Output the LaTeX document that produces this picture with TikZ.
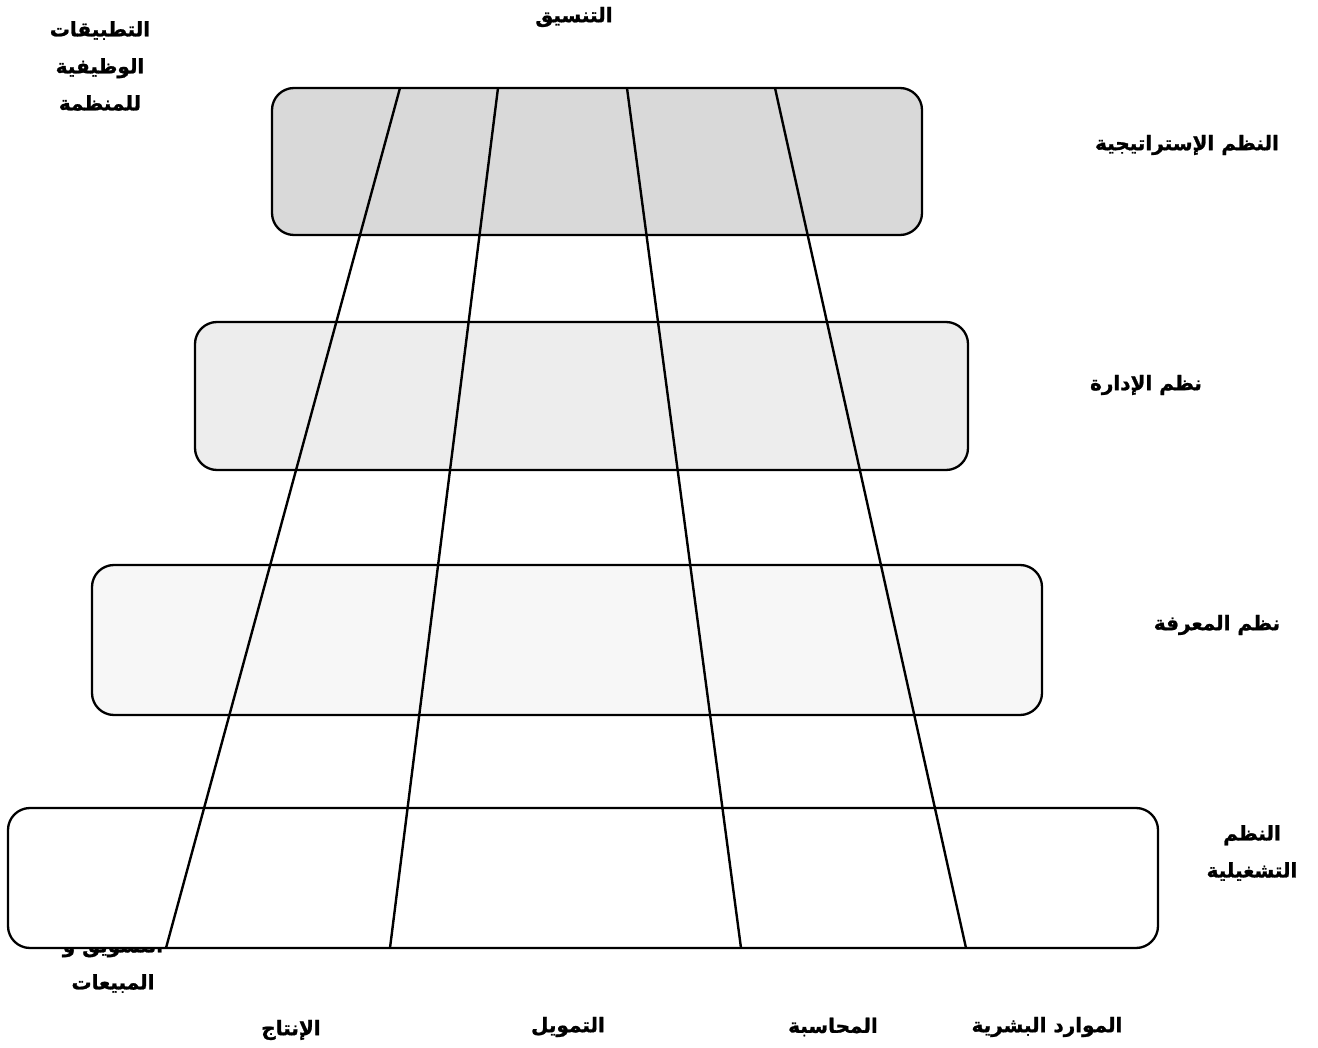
\documentclass[tikz,border=0pt]{standalone}
\usepackage{fontspec}
\TeXXeTstate=1
\newfontfamily\arabicfont[Script=Arabic,FakeBold=1.2]{DejaVu Sans Bold}
\begin{document}
\begin{tikzpicture}[x=1pt,y=-1pt,
  lbl/.style={font=\arabicfont\fontsize{20}{37}\selectfont, align=center, inner sep=0pt},
  layer/.style={draw=black, line width=2.3pt, rounded corners=22pt, inner sep=0pt, outer sep=0pt},
  axis/.style={draw=black, line width=2.4pt}]
\useasboundingbox (0,0) rectangle (1318,1048);
% label partly hidden by bottom box
\node[lbl] (mkt) at (113,965) {\beginR التسويق و\endR\\\beginR المبيعات\endR};
% layers
\node[layer, fill=black!15, minimum width=650pt, minimum height=147pt] (box1) at (597,161.5) {};
\node[layer, fill=black!7, minimum width=773pt, minimum height=148pt] (box2) at (581.5,396) {};
\node[layer, fill=black!3, minimum width=950pt, minimum height=150pt] (box3) at (567,640) {};
\node[layer, fill=white, minimum width=1150pt, minimum height=140pt] (box4) at (583,878) {};
% functional lines
\coordinate (t1) at (400,88);  \coordinate (b1) at (166,948);
\coordinate (t2) at (498,88);  \coordinate (b2) at (390,948);
\coordinate (t3) at (627,88);  \coordinate (b3) at (741,948);
\coordinate (t4) at (775,88);  \coordinate (b4) at (966,948);
\draw[axis] (t1) -- (b1);
\draw[axis] (t2) -- (b2);
\draw[axis] (t3) -- (b3);
\draw[axis] (t4) -- (b4);
% labels
\node[lbl] (coord) at (574,17) {\beginR التنسيق\endR};
\node[lbl] (apps) at (100,66) {\beginR التطبيقات\endR\\\beginR الوظيفية\endR\\\beginR للمنظمة\endR};
\node[lbl] (l1) at (1187,145) {\beginR النظم الإستراتيجية\endR};
\node[lbl] (l2) at (1146,385) {\beginR نظم الإدارة\endR};
\node[lbl] (l3) at (1217,625) {\beginR نظم المعرفة\endR};
\node[lbl] (l4) at (1252,853) {\beginR النظم\endR\\\beginR التشغيلية\endR};
\node[lbl] (f1) at (291,1030) {\beginR الإنتاج\endR};
\node[lbl] (f2) at (568,1027) {\beginR التمويل\endR};
\node[lbl] (f3) at (833,1027) {\beginR المحاسبة\endR};
\node[lbl] (f4) at (1047,1027) {\beginR الموارد البشرية\endR};
\end{tikzpicture}
\end{document}
